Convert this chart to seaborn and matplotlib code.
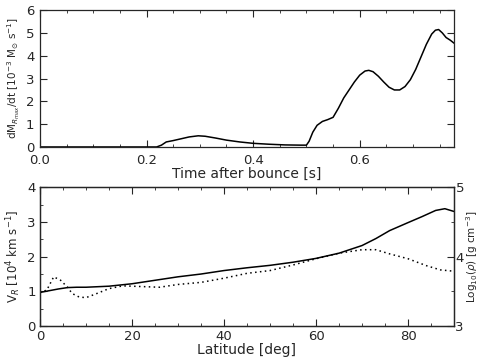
import numpy as np
import pandas as pd
import matplotlib
matplotlib.use("Agg")
import matplotlib.pyplot as plt
from matplotlib.ticker import MultipleLocator
import seaborn as sns

# ---- data ----
time_s = [0.0, 0.10, 0.20, 0.219, 0.228, 0.237, 0.25, 0.265, 0.28, 0.297, 0.31, 0.33,
          0.35, 0.375, 0.40, 0.43, 0.46, 0.49, 0.500, 0.505, 0.512, 0.52, 0.53,
          0.54, 0.55, 0.56, 0.57, 0.58, 0.59, 0.60, 0.61, 0.617, 0.625, 0.635,
          0.645, 0.655, 0.665, 0.675, 0.685, 0.695, 0.705, 0.715, 0.725, 0.735,
          0.742, 0.748, 0.755, 0.762, 0.770, 0.777]
mdot = [0.0, 0.0, 0.0, 0.0, 0.08, 0.22, 0.28, 0.36, 0.44, 0.49, 0.47, 0.39,
        0.30, 0.22, 0.16, 0.12, 0.09, 0.08, 0.08, 0.25, 0.65, 0.95, 1.12,
        1.2, 1.3, 1.7, 2.15, 2.5, 2.85, 3.15, 3.33, 3.36, 3.3, 3.1,
        2.85, 2.62, 2.5, 2.5, 2.65, 2.95, 3.4, 3.95, 4.5, 4.95,
        5.12, 5.15, 5.0, 4.8, 4.68, 4.55]

lat_deg = [0, 2, 4, 6, 8, 10, 15, 20, 25, 30, 35, 40, 45, 50, 55, 60,
           65, 70, 73, 76, 80, 83, 86, 88, 90]
v_r = [0.97, 1.02, 1.07, 1.11, 1.12, 1.12, 1.15, 1.22, 1.32, 1.42, 1.5, 1.6,
       1.68, 1.75, 1.84, 1.95, 2.1, 2.32, 2.52, 2.75, 2.98, 3.15, 3.33, 3.38, 3.3]

lat_rho = [0, 1.5, 3, 4.5, 6, 7, 8.5, 10, 12, 15, 18, 22, 26, 30, 35, 40,
           45, 50, 55, 60, 65, 70, 73, 76, 80, 84, 87, 90]
log_rho = [3.48, 3.52, 3.71, 3.66, 3.56, 3.47, 3.42, 3.41, 3.46, 3.54, 3.58,
           3.57, 3.56, 3.6, 3.63, 3.69, 3.76, 3.8, 3.88, 3.97, 4.05, 4.1,
           4.1, 4.04, 3.97, 3.87, 3.81, 3.79]

df_top = pd.DataFrame({"t": time_s, "m": mdot})
df_v = pd.DataFrame({"lat": lat_deg, "v": v_r})
df_r = pd.DataFrame({"lat": lat_rho, "r": log_rho})

sns.set_style("ticks")
plt.rcParams["font.family"] = ["DejaVu Sans"]
plt.rcParams["mathtext.fontset"] = "dejavusans"

fig = plt.figure(figsize=(4.81, 3.62), dpi=100)
ax1 = fig.add_axes([0.083, 0.594, 0.861, 0.378])
ax2 = fig.add_axes([0.083, 0.099, 0.861, 0.384])

lw = 1.1
sns.lineplot(data=df_top, x="t", y="m", ax=ax1, color="black", lw=lw)
ax1.set_xlim(0, 0.777)
ax1.set_ylim(0, 6)
ax1.xaxis.set_major_locator(MultipleLocator(0.2))
ax1.xaxis.set_minor_locator(MultipleLocator(0.05))
ax1.yaxis.set_major_locator(MultipleLocator(1))
ax1.set_xticks([0.0, 0.2, 0.4, 0.6])
ax1.set_xticklabels(["0.0", "0.2", "0.4", "0.6"])
ax1.set_xlabel("Time after bounce [s]", fontsize=10, labelpad=0)
ax1.set_ylabel(r"dM$_{R_{max}}$/dt [10$^{-3}$ M$_{\odot}$ s$^{-1}$]", fontsize=7.5, labelpad=3)

sns.lineplot(data=df_v, x="lat", y="v", ax=ax2, color="black", lw=lw)
ax2.set_xlim(0, 90)
ax2.set_ylim(0, 4)
ax2.xaxis.set_major_locator(MultipleLocator(20))
ax2.xaxis.set_minor_locator(MultipleLocator(5))
ax2.yaxis.set_major_locator(MultipleLocator(1))
ax2.yaxis.set_minor_locator(MultipleLocator(0.5))
ax2.set_xlabel("Latitude [deg]", fontsize=10, labelpad=0)
ax2.set_ylabel(r"V$_R$ [10$^4$ km s$^{-1}$]", fontsize=8.5, labelpad=3)

ax3 = ax2.twinx()
sns.lineplot(data=df_r, x="lat", y="r", ax=ax3, color="black", lw=lw,
             linestyle=(0, (1, 2.2)))
ax3.set_xlim(0, 90)
ax3.set_ylim(3, 5)
ax3.yaxis.set_major_locator(MultipleLocator(1))
ax3.yaxis.set_minor_locator(MultipleLocator(0.5))
ax3.set_ylabel(r"Log$_{10}$($\rho$) [g cm$^{-3}$]", fontsize=7.5, labelpad=0.5)
ax3.set_xlabel("")

for ax in (ax1, ax2):
    ax.tick_params(which="both", direction="in", top=True, labelsize=9.5, pad=3)
    ax.tick_params(which="major", length=5, width=0.8)
    ax.tick_params(which="minor", length=2.5, width=0.6)
ax1.tick_params(which="both", right=True)
ax1.tick_params(axis="x", which="both", pad=5)
ax1.tick_params(axis="y", which="both", pad=4)
ax3.tick_params(which="both", direction="in", labelsize=9.5, pad=1)
ax3.tick_params(which="major", length=5, width=0.8)
ax3.tick_params(which="minor", length=2.5, width=0.6)

for ax in (ax1, ax2, ax3):
    for s in ax.spines.values():
        s.set_visible(True)
        s.set_linewidth(0.9)

fig.savefig("out.png", dpi=100)
